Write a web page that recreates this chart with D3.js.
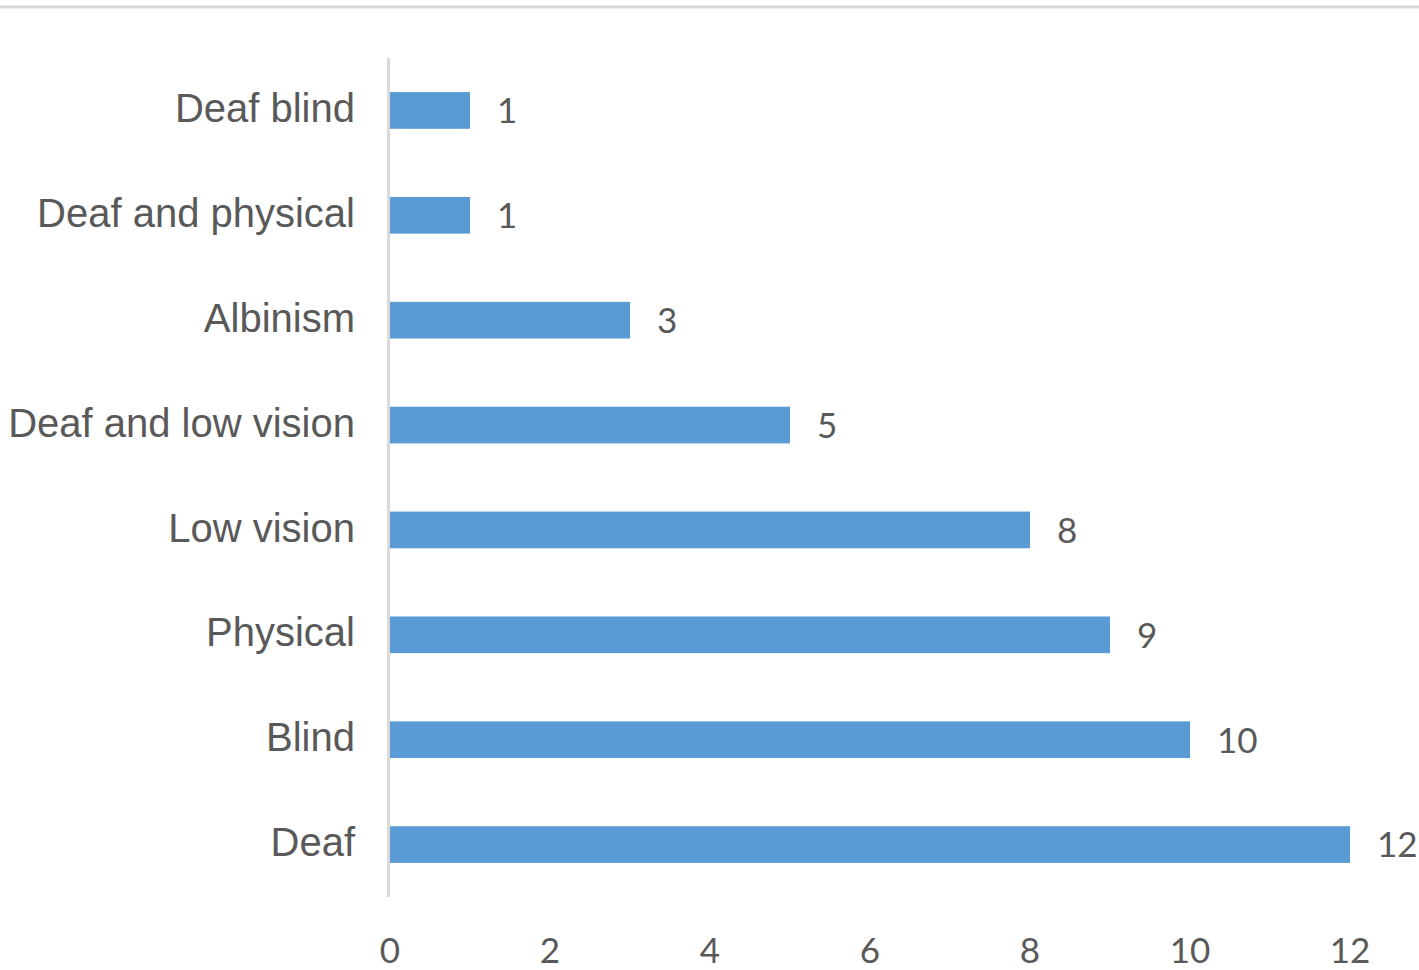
<!DOCTYPE html>
<html>
<head>
<meta charset="utf-8">
<script src="https://cdn.jsdelivr.net/npm/d3@7"></script>
<style>
body { margin: 0; background: #fff; }
.cat { font-family: "Liberation Sans", Arial, sans-serif; font-size: 40px; fill: #595959; }
.num { font-family: Lato, "Open Sans", sans-serif; font-size: 35px; fill: #595959; }
</style>
</head>
<body>
<script>
"use strict";
const categories = ["Deaf blind", "Deaf and physical", "Albinism", "Deaf and low vision", "Low vision", "Physical", "Blind", "Deaf"];
const values = [1, 1, 3, 5, 8, 9, 10, 12];
const ticks = [0, 2, 4, 6, 8, 10, 12];

const size = {"width": 1419, "height": 970};
const svg = d3.select("body").append("svg").attr("width", size.width).attr("height", size.height);

// top border line
svg.append("line").attr("x1", 0).attr("x2", size.width).attr("y1", 7).attr("y2", 7)
.attr("stroke", "#d9d9d9").attr("stroke-width", 3);

const x = d3.scaleLinear().domain([0, 12]).range([390, 1350]);
const y = d3.scaleBand().domain(categories).range([58, 897]).paddingInner(0.65).paddingOuter(0.325);

svg.selectAll("rect.bar")
.data(values)
.enter()
.append("rect")
.attr("class", "bar")
.attr("x", x(0))
.attr("y", (d, i) => y(categories[i]))
.attr("width", d => x(d) - x(0))
.attr("height", y.bandwidth())
.attr("fill", "#5b9bd5");

// value labels
svg.selectAll("text.val")
.data(values)
.enter()
.append("text")
.attr("class", "num val")
.attr("x", d => x(d) + 27)
.attr("y", (d, i) => y(categories[i]) + y.bandwidth() / 2 + 4)
.attr("dominant-baseline", "middle")
.text(d => d);

// category labels
svg.selectAll("text.cat")
.data(categories)
.enter()
.append("text")
.attr("class", "cat")
.attr("x", 355)
.attr("y", d => y(d) + y.bandwidth() / 2 + 1)
.attr("text-anchor", "end")
.attr("dominant-baseline", "middle")
.text(d => d);

// vertical axis line
svg.append("line").attr("x1", 388.5).attr("x2", 388.5).attr("y1", 58).attr("y2", 897)
.attr("stroke", "#d9d9d9").attr("stroke-width", 3);

// x tick labels
svg.selectAll("text.tick")
.data(ticks)
.enter()
.append("text")
.attr("class", "num tick")
.attr("x", d => x(d))
.attr("y", 954)
.attr("text-anchor", "middle")
.attr("dominant-baseline", "middle")
.text(d => d);
</script>
</body>
</html>
